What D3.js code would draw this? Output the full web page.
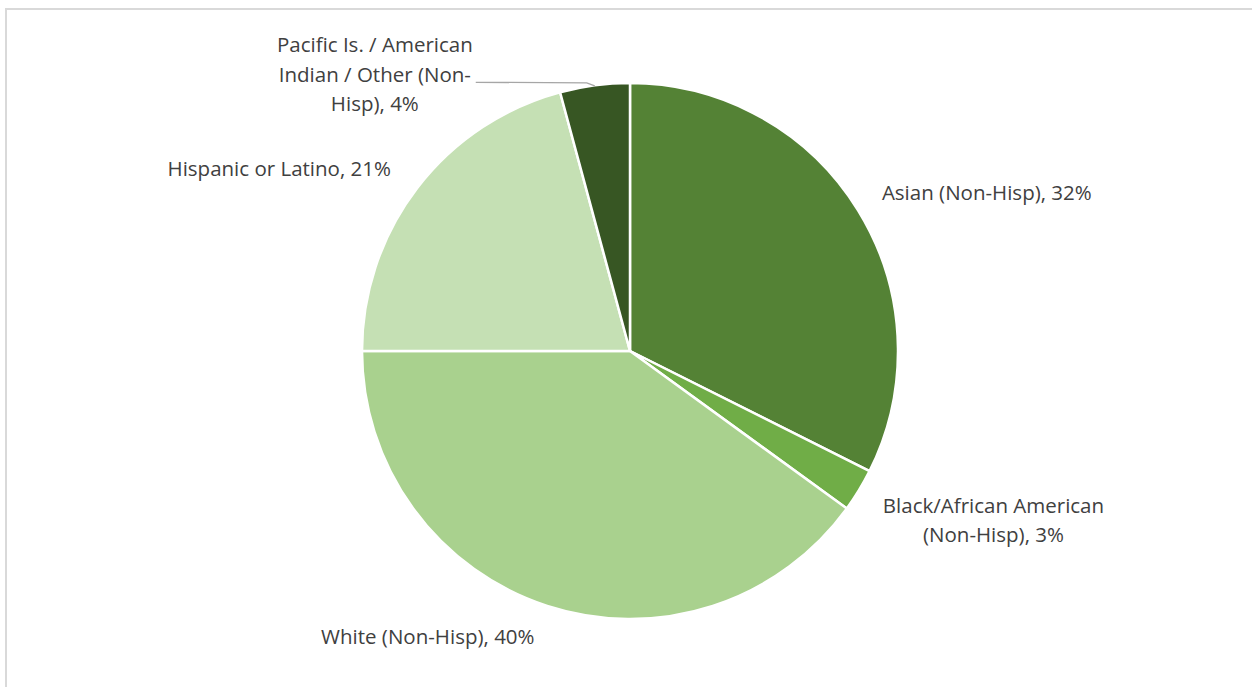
<!DOCTYPE html>
<html>
<head>
<meta charset="utf-8">
<script src="https://cdn.jsdelivr.net/npm/d3@7"></script>
<style>
  html, body { margin: 0; padding: 0; background: #fff; }
  svg { display: block; }
</style>
</head>
<body>
<svg id="chart" width="1252" height="687"></svg>
<script>
// ---- data ----
const categories = [
  "Asian (Non-Hisp)",
  "Black/African American (Non-Hisp)",
  "White (Non-Hisp)",
  "Hispanic or Latino",
  "Pacific Is. / American Indian / Other (Non-Hisp)"
];
const values = [32.4, 2.6, 40.0, 20.8, 4.2];
const labelText = [
  ["Asian (Non-Hisp), 32%"],
  ["Black/African American", "(Non-Hisp), 3%"],
  ["White (Non-Hisp), 40%"],
  ["Hispanic or Latino, 21%"],
  ["Pacific Is. / American", "Indian / Other (Non-", "Hisp), 4%"]
];
const colors = ["#548235", "#70AD47", "#A9D18E", "#C5E0B4", "#375623"];

// ---- layout ----
const W = 1252, H = 687;
const cx = 630, cy = 351, R = 268;
const fontSize = 20.5, lineH = 29.5;
const textColor = "#404040";

const svg = d3.select("#chart");

// chart frame
svg.append("rect")
  .attr("x", 6).attr("y", 9)
  .attr("width", 1400).attr("height", 1000)
  .attr("fill", "none").attr("stroke", "#d9d9d9").attr("stroke-width", 2);

const pie = d3.pie().sort(null).value(d => d)(values);
const arc = d3.arc().innerRadius(0).outerRadius(R);

const g = svg.append("g").attr("transform", `translate(${cx},${cy})`);
g.selectAll("path.slice")
  .data(pie)
  .join("path")
  .attr("class", "slice")
  .attr("d", arc)
  .attr("fill", (d, i) => colors[i])
  .attr("stroke", "#fff")
  .attr("stroke-width", 2.5)
  .attr("stroke-linejoin", "round");

const labels = svg.append("g")
  .attr("font-family", "'Open Sans', 'Noto Sans', sans-serif")
  .attr("font-size", fontSize)
  .attr("fill", textColor);

// draws a centred multi-line block; x is the block edge given by `side`
function drawBlock(lines, x, yCenter, side) {
  const t = labels.append("text").attr("text-anchor", "middle");
  const n = lines.length;
  const spans = lines.map((ln, k) =>
    t.append("tspan")
      .attr("y", yCenter + (k - (n - 1) / 2) * lineH)
      .attr("dy", "0.35em")
      .text(ln));
  const w = d3.max(spans, s => s.node().getComputedTextLength());
  const mid = side === "start" ? x + w / 2 : (side === "end" ? x - w / 2 : x);
  spans.forEach(s => s.attr("x", mid));
}

pie.forEach((d, i) => {
  const a = (d.startAngle + d.endAngle) / 2;
  const s = Math.sin(a), c = Math.cos(a);
  const lines = labelText[i];
  const halfH = lines.length * lineH / 2;
  if (d.endAngle - d.startAngle < 0.35 && c > 0.9) {
    // small slice at the top: leader line out to the left
    const x0 = cx + R * s, y0 = cy - R * c;
    const x1 = x0 - 119;
    svg.append("path")
      .attr("d", `M${x0},${y0 + 0.5}L${x0 - 8},${y0 - 2.5}L${x1},${y0 - 3}`)
      .attr("fill", "none")
      .attr("stroke", "#a6a6a6")
      .attr("stroke-width", 1.3);
    drawBlock(lines, x1 - 3, y0 - 11, "end");
    return;
  }
  const off = 28;
  const px = cx + (R + off) * s;
  const py = cy - (R + off) * c;
  const side = s > 0.1 ? "start" : (s < -0.1 ? "end" : "middle");
  const k = lines.length > 1 ? 1 : 0.3;
  const yc = py - c * halfH * k;
  drawBlock(lines, px + (side === "end" ? -4 : 0), yc, side);
});
</script>
</body>
</html>
